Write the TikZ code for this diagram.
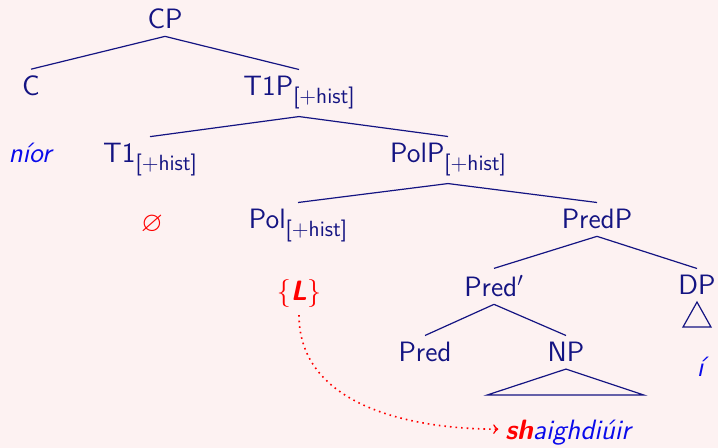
\documentclass[tikz,border=0pt]{standalone}
\usepackage{amsmath,amssymb}
\definecolor{bgpink}{RGB}{253,242,242}
\definecolor{navy}{RGB}{20,20,130}
\definecolor{wordblue}{RGB}{10,10,235}
\tikzset{
	cat/.style = {
		anchor=base,
		text=navy
	},
	word/.style = {
		anchor=base,
		text=wordblue,
		font=\fontsize{14}{17}\selectfont\sffamily\itshape
	},
	feat/.style = {
		text=red
	},
	branch/.style = {
		draw=navy,
		line width=0.6pt
	}
}
\newcommand{\hist}{\raisebox{-4pt}{\fontsize{11}{13}\selectfont[+hist]}}

\begin{document}
\begin{tikzpicture}[x=0.5pt, y=0.5pt, font=\fontsize{14}{17}\selectfont\sffamily]
		\fill[bgpink] (0,0) rectangle (718,-448);
		\useasboundingbox (0,0) rectangle (718,-448);
		% tree
		\node[cat] (cp) at (165,-29) {CP};
		\node[cat] (c) at (31,-96) {C};
		\node[cat] (t1p) at (299,-96) {T1P\hist};
		\node[word] (nior) at (30,-163) {níor};
		\node[cat] (t1) at (150,-163) {T1\hist};
		\node[cat] (polp) at (448,-163) {PolP\hist};
		\node[feat] (null) at (152,-225) {$\varnothing$};
		\node[cat] (pol) at (298,-229) {Pol\hist};
		\node[cat] (predp) at (597,-229) {PredP};
		\node[feat, anchor=base] (lenit) at (299,-301) {\{\textbf{\textit{L}}\}};
		\node[cat] (predbar) at (494,-297) {Pred$'$};
		\node[cat] (dp) at (697,-295) {DP};
		\node[cat] (pred) at (425,-362) {Pred};
		\node[cat] (np) at (566,-362) {NP};
		\node[word] (i) at (700,-377) {í};
		\node[word] (saighdiuir) at (568,-440) {\textcolor{red}{\bfseries sh}aighdiúir};
		% branches
		\draw[branch] (cp.south) -- (c.north);
		\draw[branch] (cp.south) -- (t1p.north);
		\draw[branch] (t1p.south) -- (t1.north);
		\draw[branch] (t1p.south) -- (polp.north);
		\draw[branch] (polp.south) -- (pol.north);
		\draw[branch] (polp.south) -- (predp.north);
		\draw[branch] (predp.south) -- (predbar.north);
		\draw[branch] (predp.south) -- (dp.north);
		\draw[branch] (predbar.south) -- (pred.north);
		\draw[branch] (predbar.south) -- (np.north);
		\draw[branch] (np.south) -- ++(-79,-26) -- ++(157,0) -- cycle;
		\draw[branch] (dp.south) -- ++(-14,-25) -- ++(28,0) -- cycle;
		% mutation
		\draw[red, dotted, line width=0.8pt, ->] (lenit.south) to[out=-90, in=180] ([yshift=2pt]saighdiuir.west);
\end{tikzpicture}
\end{document}
